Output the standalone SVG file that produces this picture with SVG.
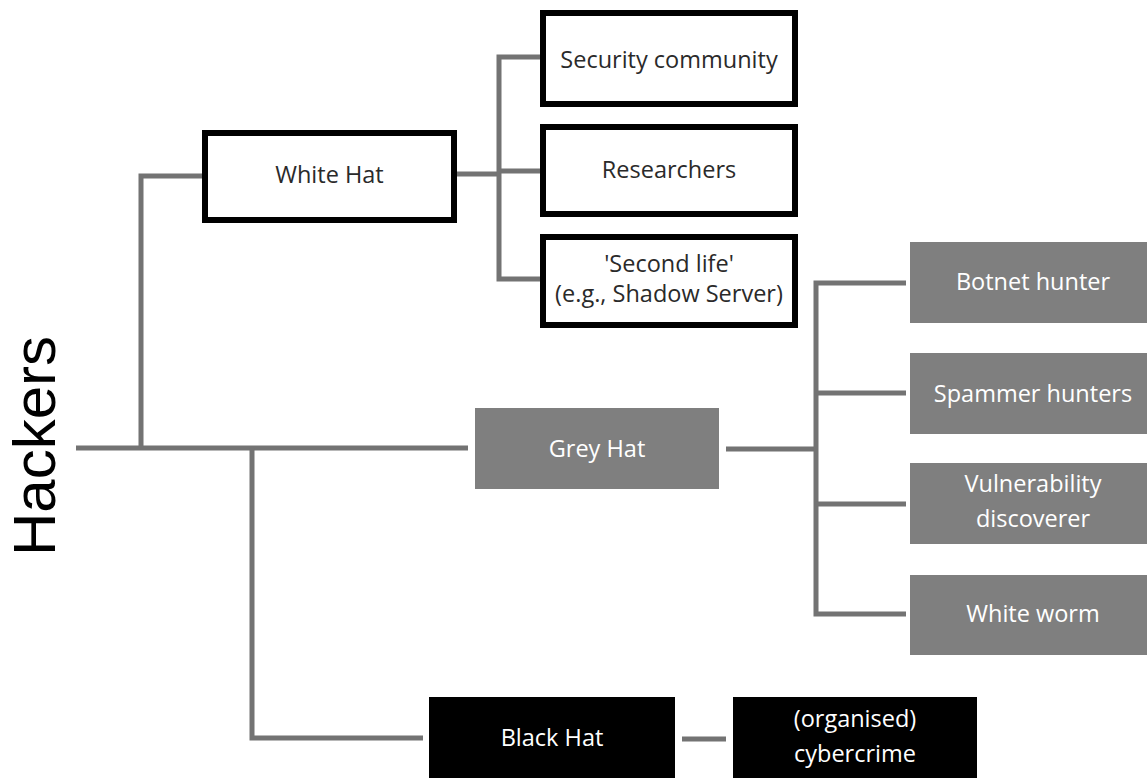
<svg xmlns="http://www.w3.org/2000/svg" width="1147" height="778" viewBox="0 0 1147 778">
  <style>
    text { font-family: "Open Sans", "Noto Sans", "DejaVu Sans", sans-serif; font-size: 23.5px; text-anchor: middle; }
    .white rect { fill: #ffffff; stroke: #000000; stroke-width: 6; }
    .white text { fill: #2a2a2a; }
    .grey rect { fill: #7f7f7f; }
    .grey text { fill: #ffffff; }
    .black rect { fill: #000000; }
    .black text { fill: #ffffff; }
    .wire { fill: none; stroke: #737373; stroke-width: 5; }
    .title { font-family: "Liberation Sans", Arial, sans-serif; font-size: 60px; fill: #000000; }
  </style>
  <rect width="1147" height="778" fill="#ffffff"/>

  <!-- connectors -->
  <g id="connectors" class="wire">
    <!-- root trunk -->
    <path d="M76 448 H468"/>
    <path d="M141 448 V176 H202"/>
    <path d="M252 448 V738 H423"/>
    <!-- white hat branches -->
    <path d="M457 174 H499"/>
    <path d="M540 57 H499 V279 H540"/>
    <path d="M499 171 H540"/>
    <!-- grey hat branches -->
    <path d="M726 449 H816"/>
    <path d="M906 283 H816 V614 H906"/>
    <path d="M816 393 H906"/>
    <path d="M816 504 H906"/>
    <!-- black hat to cybercrime -->
    <path d="M682 739 H726"/>
  </g>

  <g id="hackers">
    <text class="title" transform="translate(55,446) rotate(-90)">Hackers</text>
  </g>

  <g id="white-hat" class="white">
    <rect x="205" y="133" width="249" height="87"/>
    <text x="329.5" y="183">White Hat</text>
  </g>
  <g id="security-community" class="white">
    <rect x="543" y="13" width="252" height="91"/>
    <text x="669" y="68">Security community</text>
  </g>
  <g id="researchers" class="white">
    <rect x="543" y="127" width="252" height="87"/>
    <text x="669" y="178">Researchers</text>
  </g>
  <g id="second-life" class="white">
    <rect x="543" y="237" width="252" height="88"/>
    <text x="669" y="272">'Second life'</text>
    <text x="669" y="302">(e.g., Shadow Server)</text>
  </g>

  <g id="grey-hat" class="grey">
    <rect x="475" y="408" width="244" height="81"/>
    <text x="597" y="457">Grey Hat</text>
  </g>
  <g id="botnet-hunter" class="grey">
    <rect x="910" y="242" width="250" height="81"/>
    <text x="1033" y="290">Botnet hunter</text>
  </g>
  <g id="spammer-hunters" class="grey">
    <rect x="910" y="353" width="250" height="81"/>
    <text x="1033" y="402">Spammer hunters</text>
  </g>
  <g id="vulnerability-discoverer" class="grey">
    <rect x="910" y="463" width="250" height="81"/>
    <text x="1033" y="492">Vulnerability</text>
    <text x="1033" y="527">discoverer</text>
  </g>
  <g id="white-worm" class="grey">
    <rect x="910" y="575" width="250" height="80"/>
    <text x="1033" y="622">White worm</text>
  </g>

  <g id="black-hat" class="black">
    <rect x="429" y="697" width="246" height="90"/>
    <text x="552" y="746">Black Hat</text>
  </g>
  <g id="cybercrime" class="black">
    <rect x="733" y="697" width="244" height="90"/>
    <text x="855" y="727">(organised)</text>
    <text x="855" y="762">cybercrime</text>
  </g>
</svg>
